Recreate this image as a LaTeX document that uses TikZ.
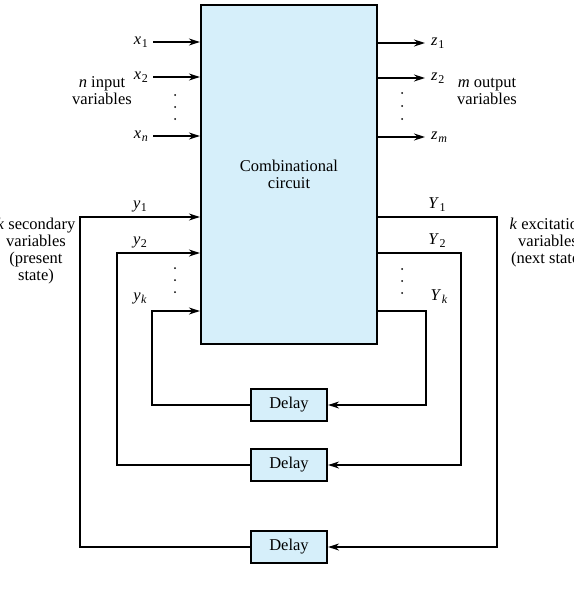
\documentclass[tikz,border=0pt]{standalone}
\usepackage{fontspec}
\setmainfont{Liberation Serif}
\usetikzlibrary{arrows.meta}
\definecolor{boxblue}{RGB}{214,239,250}
\newcommand\sv[2]{\textit{#1}\kern0.04em\raisebox{-0.4ex}{\fontsize{12}{12}\selectfont #2}}
\begin{document}
\begin{tikzpicture}[x=1pt,y=-1pt,
  every node/.style={font=\fontsize{16.5}{17}\selectfont},
  arr/.style={line width=1.4pt,-{Stealth[length=11pt,width=7pt]}},
  blk/.style={draw,line width=2.2pt,fill=boxblue},
  lab/.style={inner sep=0pt}]
\useasboundingbox (0,0) rectangle (573,602);
\clip (0,0) rectangle (573,602);
% main block
\node[blk,minimum width=176pt,minimum height=339pt,align=center] (cc) at (289,174.5) {Combinational\\circuit};
% delays
\node[blk,minimum width=76pt,minimum height=32pt] (d1) at (289,405) {Delay};
\node[blk,minimum width=76pt,minimum height=32pt] (d2) at (289,465) {Delay};
\node[blk,minimum width=76pt,minimum height=32pt] (d3) at (289,547) {Delay};
% inputs
\coordinate (x1) at (153,42);
\coordinate (x2) at (153,77);
\coordinate (xn) at (153,136);
\draw[arr] (x1) -- (x1 -| cc.west);
\draw[arr] (x2) -- (x2 -| cc.west);
\draw[arr] (xn) -- (xn -| cc.west);
\node[lab,anchor=east] (lx1) at (148,42) {\sv{x}{1}};
\node[lab,anchor=east] (lx2) at (148,77) {\sv{x}{2}};
\node[lab,anchor=east] (lxn) at (148,136) {\sv{x}{\textit{n}}};
\node[lab,align=center] (nin) at (102,91) {\textit{n} input\\variables};
\foreach \yy in {95,107,119} \fill (175,\yy) circle (1);
% outputs
\coordinate (z1) at (425,43);
\coordinate (z2) at (425,78);
\coordinate (zm) at (425,137);
\draw[arr] (z1 -| cc.east) -- (z1);
\draw[arr] (z2 -| cc.east) -- (z2);
\draw[arr] (zm -| cc.east) -- (zm);
\node[lab,anchor=west] (lz1) at (431,43) {\sv{z}{1}};
\node[lab,anchor=west] (lz2) at (431,78) {\sv{z}{2}};
\node[lab,anchor=west] (lzm) at (431,137) {\sv{z}{\textit{m}}};
\node[lab,align=center] (mout) at (487,91) {\textit{m} output\\variables};
\foreach \yy in {93,106,119} \fill (402,\yy) circle (1);
% feedback left
\coordinate (L1) at (80,217);
\coordinate (L2) at (117,253);
\coordinate (Lk) at (152,311);
\draw[arr] (d3.west) -| (L1) -- (L1 -| cc.west);
\draw[arr] (d2.west) -| (L2) -- (L2 -| cc.west);
\draw[arr] (d1.west) -| (Lk) -- (Lk -| cc.west);
\node[lab] (ly1) at (140,206) {\sv{y}{1}};
\node[lab] (ly2) at (140,242) {\sv{y}{2}};
\node[lab] (lyk) at (140,298) {\sv{y}{\textit{k}}};
\foreach \yy in {268,280,292} \fill (175,\yy) circle (1);
\node[lab,align=center] (ksec) at (36,251) {\textit{k} secondary\\variables\\(present\\state)};
% feedback right
\coordinate (R1) at (497,217);
\coordinate (R2) at (461,253);
\coordinate (Rk) at (426,311);
\draw[arr] (R1 -| cc.east) -- (R1) |- (d3.east);
\draw[arr] (R2 -| cc.east) -- (R2) |- (d2.east);
\draw[arr] (Rk -| cc.east) -- (Rk) |- (d1.east);
\node[lab] (lY1) at (437,205) {\sv{Y}{1}};
\node[lab] (lY2) at (437,241) {\sv{Y}{2}};
\node[lab] (lYk) at (439,297) {\sv{Y}{\textit{k}}};
\foreach \yy in {269,281,293} \fill (402,\yy) circle (1);
\node[lab,align=center] (kexc) at (548,243) {\textit{k} excitation\\variables\\(next state)};
\end{tikzpicture}
\end{document}
